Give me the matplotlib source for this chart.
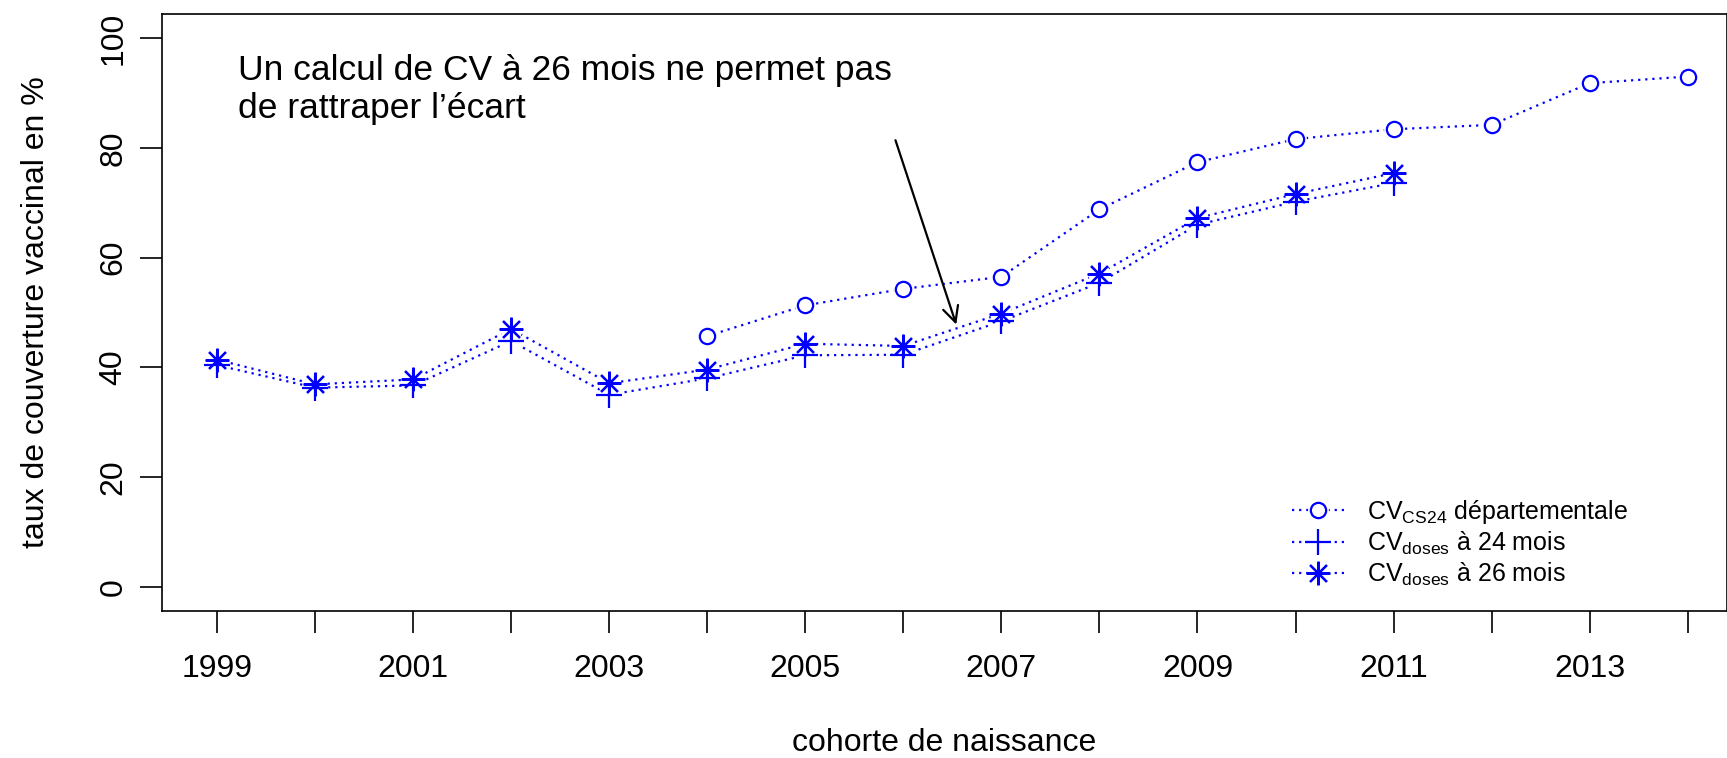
import numpy as np
import matplotlib
matplotlib.use("Agg")
import matplotlib.pyplot as plt
from matplotlib.legend_handler import HandlerTuple

plt.rcParams['font.family'] = ['Liberation Sans', 'DejaVu Sans']
plt.rcParams['mathtext.fontset'] = 'custom'
plt.rcParams['mathtext.rm'] = 'Liberation Sans'
plt.rcParams['mathtext.it'] = 'Liberation Sans'

years = list(range(1999, 2015))
nan = np.nan
cv_cs24 = [nan, nan, nan, nan, nan, 45.7, 51.3, 54.3, 56.5, 68.8, 77.4, 81.6, 83.4, 84.2, 91.8, 93.0]
cv_24 = [40.4, 36.3, 36.7, 44.8, 35.0, 38.0, 42.2, 42.3, 48.4, 55.4, 66.0, 70.2, 73.6, nan, nan, nan]
cv_26 = [41.4, 36.9, 37.8, 47.0, 37.1, 39.6, 44.3, 43.9, 49.8, 57.1, 67.2, 71.6, 75.4, nan, nan, nan]

labels = [r'CV$_{\mathrm{CS24}}$ départementale',
          r'CV$_{\mathrm{doses}}$ à 24 mois',
          r'CV$_{\mathrm{doses}}$ à 26 mois']
xtick_labels = ['1999', '2001', '2003', '2005', '2007', '2009', '2011', '2013']
yticks = [0, 20, 40, 60, 80, 100]
annot_text = "Un calcul de CV à 26 mois ne permet pas\nde rattraper l’écart"

fig = plt.figure(figsize=(17.27, 7.58), dpi=100)
ax = fig.add_axes([0.0938, 0.194, 0.9062, 0.7875])

blue = '#0000FF'
ls = (0, (1, 2.2))
lw = 1.6
series = [cv_cs24, cv_24, cv_26]
markers = [dict(marker='o', ms=11, mfc='none'),
           dict(marker='+', ms=19),
           dict(marker=(8, 2, 0), ms=17)]
halo_ms = [15, 16, 16]

handles = []
for vals, mk, hms in zip(series, markers, halo_ms):
    ln, = ax.plot(years, vals, linestyle=ls, color=blue, lw=lw, zorder=2)
    halo, = ax.plot(years, vals, linestyle='none', marker='o', ms=hms,
                    mfc='white', mec='none', zorder=3)
    mkr, = ax.plot(years, vals, linestyle='none', color=blue, mec=blue,
                   mew=1.6, zorder=4, **mk)
    handles.append((ln, halo, mkr))

ax.set_xlim(1998.44, 2014.4)
ax.set_ylim(-4.4, 104.4)
ax.set_xticks(years)
ax.set_xticklabels([str(y) if str(y) in xtick_labels else '' for y in years])
ax.set_yticks(yticks)
ax.set_yticklabels([str(v) for v in yticks], rotation=90, va='center')
ax.tick_params(axis='both', length=16, width=1.2, labelsize=23, colors='black')
ax.tick_params(axis='x', pad=15)
ax.tick_params(axis='y', pad=8)

for s in ax.spines.values():
    s.set_linewidth(1.2)

ax.set_xlabel('cohorte de naissance', fontsize=23, labelpad=32)
ax.set_ylabel('taux de couverture vaccinal en %', fontsize=23, labelpad=34)

ax.text(1999.22, 97.2, annot_text, fontsize=25.5, va='top', ha='left', linespacing=1.2)
ax.annotate('', xy=(2006.54, 47.8), xytext=(2005.92, 81.4),
            arrowprops=dict(arrowstyle='->', color='black', lw=1.6,
                            mutation_scale=28, shrinkA=0, shrinkB=0))

leg = ax.legend(handles, labels, handler_map={tuple: HandlerTuple(ndivide=1)},
                loc='lower right', bbox_to_anchor=(0.943, 0.022), frameon=False,
                fontsize=18, handlelength=2.1, handletextpad=0.9,
                labelspacing=0.15, borderaxespad=0)

fig.savefig('out.png', dpi=100)
